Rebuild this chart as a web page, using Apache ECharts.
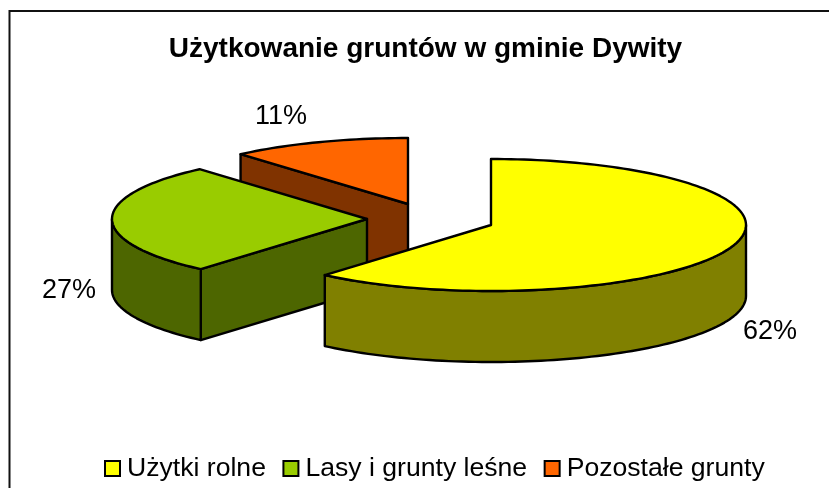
<!DOCTYPE html>
<html><head><meta charset="utf-8">
<style>html,body{margin:0;padding:0;background:#fff}#c{width:829px;height:488px}</style>
<script src="https://cdn.jsdelivr.net/npm/echarts@6/dist/echarts.min.js"></script>
</head><body><div id="c"></div>
<script>
const title = 'Użytkowanie gruntów w gminie Dywity';
const categories = ['Użytki rolne', 'Lasy i grunty leśne', 'Pozostałe grunty'];
const values = [61.3, 27.3, 11.4];
const labels = ['62%', '27%', '11%'];
const topColors = ['#FFFF00', '#99CC00', '#FF6600'];
const wallColors = ['#808000', '#4D6600', '#803300'];

// layout constants (not data)
const apexes = [[491, 225], [367, 219], [408, 204]];
const labelPos = [[770, 332], [69, 291], [281, 117]];
const RX = 255, RY = 66, DEPTH = 71;
const total = values.reduce((a, b) => a + b, 0);

function pt(c, deg, dy) {
  const a = deg * Math.PI / 180;
  return [c[0] + RX * Math.sin(a), c[1] - RY * Math.cos(a) + (dy || 0)];
}
function arc(c, from, to, dy) {
  const pts = [], n = Math.max(2, Math.ceil(Math.abs(to - from) / 1.5));
  for (let i = 0; i <= n; i++) pts.push(pt(c, from + (to - from) * i / n, dy));
  return pts;
}
const stroke = { stroke: '#000', lineWidth: 2.4, lineJoin: 'round' };

function renderSlice(idx) {
  return function () {
    const before = values.slice(0, idx).reduce((a, b) => a + b, 0);
    const start = before / total * 360, end = (before + values[idx]) / total * 360;
    const c = apexes[idx];
    const children = [];
    const wall = wallColors[idx];
    const poly = (points, fill) => children.push({ type: 'polygon', shape: { points }, style: Object.assign({ fill }, stroke) });
    const face = deg => poly([c, pt(c, deg), pt(c, deg, DEPTH), [c[0], c[1] + DEPTH]], wall);
    if (Math.sin(start * Math.PI / 180) < -1e-6) face(start);
    if (Math.sin(end * Math.PI / 180) > 1e-6) face(end);
    const a = Math.max(start, 90), b = Math.min(end, 270);
    if (b > a) poly(arc(c, a, b).concat(arc(c, b, a, DEPTH)), wall);
    poly([c].concat(arc(c, start, end)), topColors[idx]);
    children.push({ type: 'text', style: { text: labels[idx], x: labelPos[idx][0], y: labelPos[idx][1], align: 'center', verticalAlign: 'middle', fill: '#000', font: '27px "Liberation Sans", Arial, sans-serif' } });
    return { type: 'group', children };
  };
}

const chart = echarts.init(document.getElementById('c'), null, { renderer: 'canvas' });
chart.setOption({
  animation: false,
  backgroundColor: '#fff',
  title: { text: title, left: 420.5, top: 30, textAlign: 'center', textStyle: { fontFamily: '"Liberation Sans", Arial, sans-serif', fontWeight: 'bold', fontSize: 28, color: '#000' } },
  legend: {
    data: categories, left: 104, top: 455, icon: 'rect', itemWidth: 15, itemHeight: 15, itemGap: 16.5, selectedMode: false, padding: 0,
    textStyle: { fontFamily: '"Liberation Sans", Arial, sans-serif', fontSize: 26.6, color: '#000', padding: [0, 0, 0, 2] },
    itemStyle: { borderColor: '#000', borderWidth: 2 }
  },
  graphic: [{ type: 'polyline', shape: { points: [[9.5, 500], [9.5, 11], [840, 11]] }, style: { fill: null, stroke: '#111', lineWidth: 2 }, silent: true, z: 0 }],
  series: categories.map((name, i) => ({
    type: 'custom', name, coordinateSystem: 'none', z: 10 + (2 - i),
    itemStyle: { color: topColors[i] },
    data: [values[i]], renderItem: renderSlice(i)
  }))
});
</script></body></html>
